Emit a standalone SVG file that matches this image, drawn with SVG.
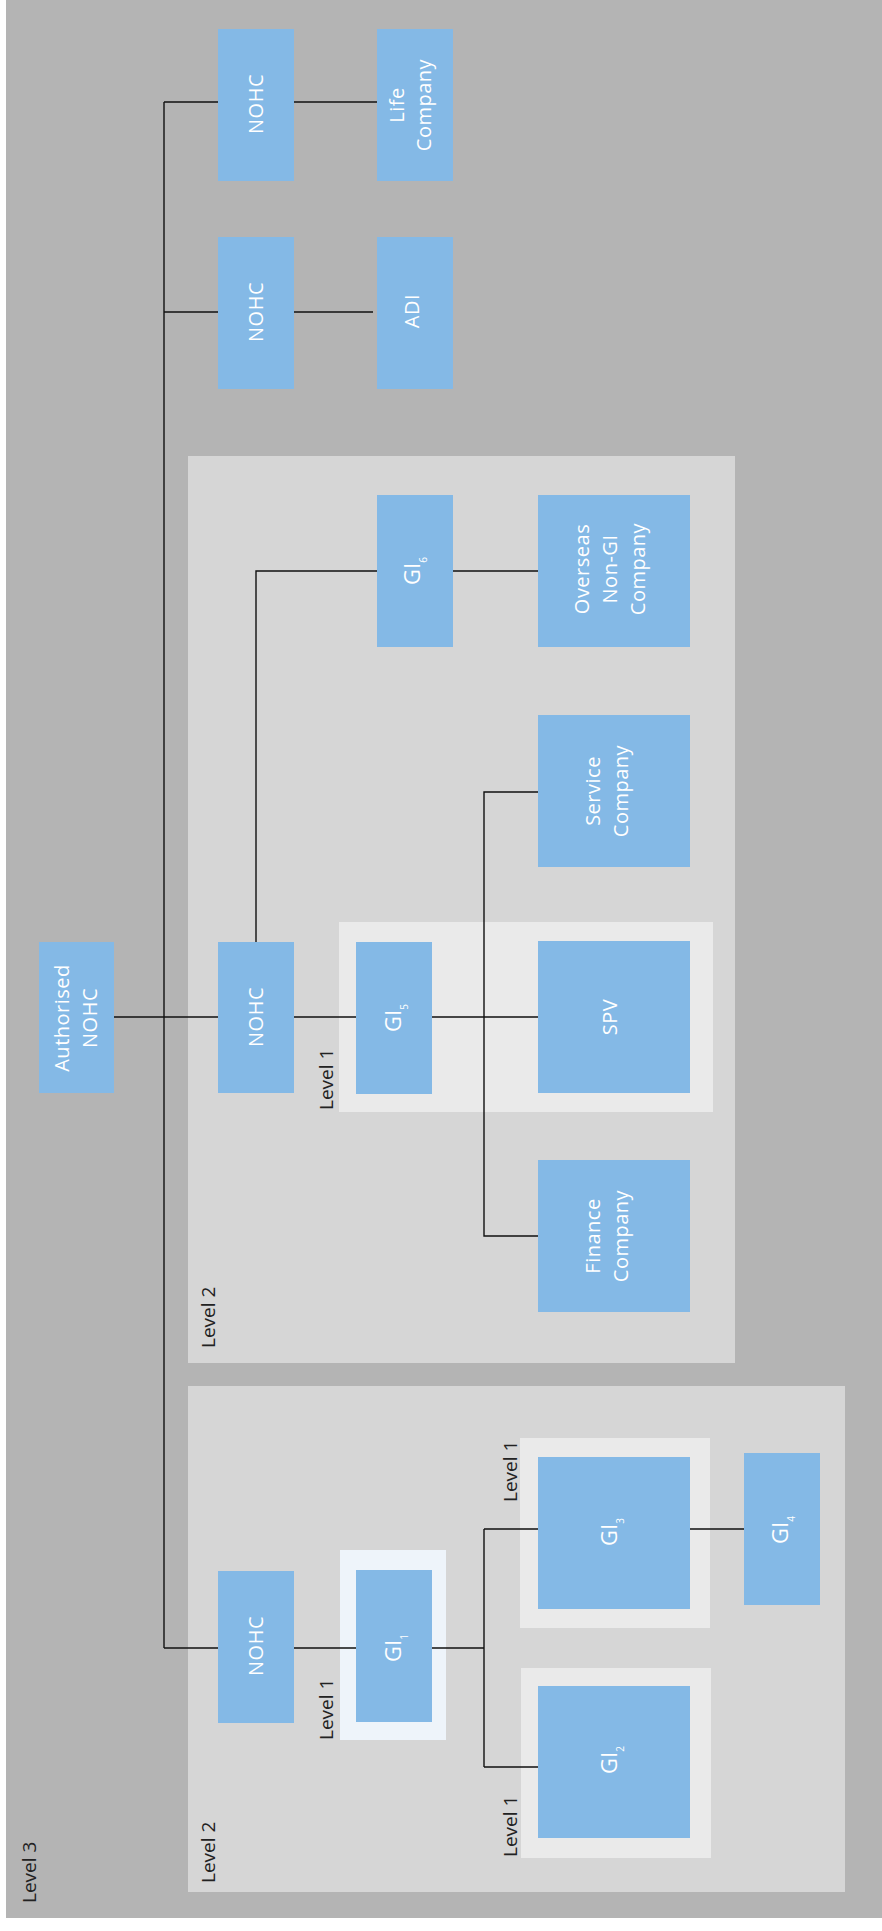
<svg xmlns="http://www.w3.org/2000/svg" width="882" height="1931" viewBox="0 0 882 1931">
<style>
.bg{fill:#b4b4b4}
.l2{fill:#d6d6d6}
.l1{fill:#eaeaea}
.l1b{fill:#eef4fa}
.node{fill:#84b9e6}
.t{font-family:"Open Sans","Liberation Sans",sans-serif;font-size:20px;font-weight:400;letter-spacing:0.5px;fill:#ffffff;text-anchor:middle}
.gi{font-size:22px;letter-spacing:0}
.lbl{font-family:"Open Sans","Liberation Sans",sans-serif;font-size:19px;font-weight:400;fill:#222222;text-anchor:start}
.sub{font-size:10px}
.c{fill:none;stroke:#111;stroke-width:1.4}
</style>
<rect x="0" y="0" width="882" height="1931" fill="#ffffff"/>
<rect class="bg" x="6" y="0" width="876" height="1918"/>
<g id="level2-top"><rect class="l2" x="188" y="456" width="547" height="907"/>
<text class="lbl" transform="translate(215,1348) rotate(-90)">Level 2</text></g>
<g id="level2-bottom"><rect class="l2" x="188" y="1386" width="657" height="506"/>
<text class="lbl" transform="translate(215,1883) rotate(-90)">Level 2</text></g>
<g id="level1-gi5"><rect class="l1" x="339" y="922" width="374" height="190"/>
<text class="lbl" transform="translate(333,1110) rotate(-90)">Level 1</text></g>
<g id="level1-gi1"><rect class="l1b" x="340" y="1550" width="106" height="190"/>
<text class="lbl" transform="translate(333,1740) rotate(-90)">Level 1</text></g>
<g id="level1-gi3"><rect class="l1" x="520" y="1438" width="190" height="190"/>
<text class="lbl" transform="translate(517,1502) rotate(-90)">Level 1</text></g>
<g id="level1-gi2"><rect class="l1" x="521" y="1668" width="190" height="190"/>
<text class="lbl" transform="translate(517,1857) rotate(-90)">Level 1</text></g>
<text id="level3-label" class="lbl" transform="translate(36,1903) rotate(-90)">Level 3</text>
<g id="connectors">
<path class="c" d="M164,102 V1648 M164,102 H218 M294,102 H377 M164,312 H218 M294,312 H373"/>
<path class="c" d="M114,1017 H218 M294,1017 H356 M432,1017 H538"/>
<path class="c" d="M256,942 V571 H377 M453,571 H538"/>
<path class="c" d="M538,792 H484 V1236 H538"/>
<path class="c" d="M164,1648 H218 M294,1648 H356 M432,1648 H484 M484,1529 V1767 M484,1529 H538 M484,1767 H538 M690,1529 H744"/>
</g>
<g id="auth-nohc"><rect class="node" x="39" y="942" width="75" height="151"/>
<text class="t" transform="translate(69,1018) rotate(-90)">Authorised</text>
<text class="t" transform="translate(97,1018) rotate(-90)">NOHC</text></g>
<g id="nohc-life"><rect class="node" x="218" y="29" width="76" height="152"/>
<text class="t" transform="translate(263,104) rotate(-90)">NOHC</text></g>
<g id="life"><rect class="node" x="377" y="29" width="76" height="152"/>
<text class="t" transform="translate(404,105) rotate(-90)">Life</text>
<text class="t" transform="translate(431,105) rotate(-90)">Company</text></g>
<g id="nohc-adi"><rect class="node" x="218" y="237" width="76" height="152"/>
<text class="t" transform="translate(263,312) rotate(-90)">NOHC</text></g>
<g id="adi"><rect class="node" x="377" y="237" width="76" height="152"/>
<text class="t" transform="translate(419,311) rotate(-90)">ADI</text></g>
<g id="gi6"><rect class="node" x="377" y="495" width="76" height="152"/>
<text class="t gi" transform="translate(420,571) rotate(-90)">GI<tspan class="sub" dy="7">6</tspan></text></g>
<g id="overseas"><rect class="node" x="538" y="495" width="152" height="152"/>
<text class="t" transform="translate(589,569) rotate(-90)">Overseas</text>
<text class="t" transform="translate(617,569) rotate(-90)">Non-GI</text>
<text class="t" transform="translate(645,569) rotate(-90)">Company</text></g>
<g id="service"><rect class="node" x="538" y="715" width="152" height="152"/>
<text class="t" transform="translate(600,791) rotate(-90)">Service</text>
<text class="t" transform="translate(628,791) rotate(-90)">Company</text></g>
<g id="nohc-mid"><rect class="node" x="218" y="942" width="76" height="151"/>
<text class="t" transform="translate(263,1017) rotate(-90)">NOHC</text></g>
<g id="gi5"><rect class="node" x="356" y="942" width="76" height="152"/>
<text class="t gi" transform="translate(401,1018) rotate(-90)">GI<tspan class="sub" dy="7">5</tspan></text></g>
<g id="spv"><rect class="node" x="538" y="941" width="152" height="152"/>
<text class="t" transform="translate(617,1017) rotate(-90)">SPV</text></g>
<g id="finance"><rect class="node" x="538" y="1160" width="152" height="152"/>
<text class="t" transform="translate(600,1236) rotate(-90)">Finance</text>
<text class="t" transform="translate(628,1236) rotate(-90)">Company</text></g>
<g id="nohc-bottom"><rect class="node" x="218" y="1571" width="76" height="152"/>
<text class="t" transform="translate(263,1646) rotate(-90)">NOHC</text></g>
<g id="gi1"><rect class="node" x="356" y="1570" width="76" height="152"/>
<text class="t gi" transform="translate(401,1648) rotate(-90)">GI<tspan class="sub" dy="7">1</tspan></text></g>
<g id="gi3"><rect class="node" x="538" y="1457" width="152" height="152"/>
<text class="t gi" transform="translate(617,1532) rotate(-90)">GI<tspan class="sub" dy="7">3</tspan></text></g>
<g id="gi4"><rect class="node" x="744" y="1453" width="76" height="152"/>
<text class="t gi" transform="translate(788,1530) rotate(-90)">GI<tspan class="sub" dy="7">4</tspan></text></g>
<g id="gi2"><rect class="node" x="538" y="1686" width="152" height="152"/>
<text class="t gi" transform="translate(617,1760) rotate(-90)">GI<tspan class="sub" dy="7">2</tspan></text></g>
</svg>
